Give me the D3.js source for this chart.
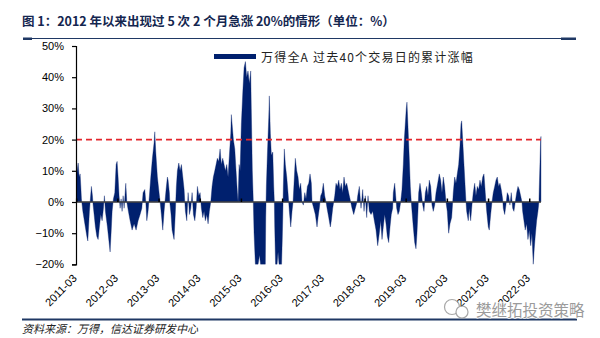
<!DOCTYPE html>
<html><head><meta charset="utf-8">
<script src="https://cdn.jsdelivr.net/npm/d3@7/dist/d3.min.js"></script>
<style>body{margin:0;background:#fff}</style>
</head><body>
<svg id="c" width="600" height="338"></svg>
<script>
// decimal-year positions of the sampled points
const dates = [
2011.153,2011.177,2011.202,2011.226,2011.250,2011.267,2011.282,2011.299,2011.316,2011.364,
2011.413,2011.437,2011.476,2011.493,2011.524,2011.549,2011.566,2011.590,2011.621,2011.655,
2011.687,2011.718,2011.752,2011.784,2011.816,2011.840,2011.864,2011.913,2011.978,2012.002,
2012.027,2012.058,2012.092,2012.124,2012.148,2012.172,2012.196,2012.221,2012.245,2012.269,
2012.294,2012.318,2012.359,2012.384,2012.422,2012.464,2012.512,2012.561,2012.609,2012.658,
2012.706,2012.748,2012.779,2012.820,2012.845,2012.869,2012.900,2012.932,2012.966,2013.005,
2013.046,2013.063,2013.087,2013.126,2013.167,2013.192,2013.223,2013.257,2013.289,2013.337,
2013.369,2013.386,2013.417,2013.427,2013.458,2013.483,2013.531,2013.563,2013.587,2013.612,
2013.646,2013.677,2013.709,2013.743,2013.775,2013.792,2013.806,2013.840,2013.872,2013.904,
2013.937,2013.969,2014.001,2014.035,2014.067,2014.098,2014.132,2014.163,2014.194,2014.228,
2014.260,2014.291,2014.325,2014.357,2014.388,2014.422,2014.454,2014.485,2014.519,2014.551,
2014.582,2014.616,2014.648,2014.679,2014.713,2014.745,2014.777,2014.810,2014.842,2014.874,
2014.908,2014.922,2014.946,2014.971,2015.005,2015.036,2015.068,2015.085,2015.110,2015.134,
2015.165,2015.199,2015.231,2015.263,2015.294,2015.326,2015.359,2015.392,2015.406,2015.431,
2015.455,2015.473,2015.505,2015.539,2015.570,2015.607,2015.631,2015.692,2015.747,2015.757,
2015.772,2015.796,2015.830,2015.844,2015.869,2015.893,2015.927,2015.951,2015.966,2015.975,
2015.995,2016.032,2016.056,2016.080,2016.141,2016.158,2016.170,2016.184,2016.208,2016.233,
2016.267,2016.298,2016.330,2016.364,2016.395,2016.420,2016.444,2016.475,2016.509,2016.541,
2016.573,2016.606,2016.638,2016.670,2016.704,2016.735,2016.767,2016.801,2016.832,2016.864,
2016.881,2016.922,2016.961,2017.002,2017.027,2017.058,2017.092,2017.123,2017.155,2017.189,
2017.221,2017.245,2017.286,2017.325,2017.349,2017.383,2017.432,2017.463,2017.495,2017.529,
2017.560,2017.592,2017.626,2017.657,2017.689,2017.723,2017.754,2017.786,2017.820,2017.851,
2017.893,2017.932,2017.973,2017.990,2018.029,2018.070,2018.111,2018.143,2018.174,2018.208,
2018.240,2018.271,2018.313,2018.354,2018.393,2018.434,2018.475,2018.514,2018.548,2018.580,
2018.611,2018.645,2018.677,2018.708,2018.742,2018.774,2018.805,2018.839,2018.854,2018.888,
2018.912,2018.936,2018.968,2018.999,2019.033,2019.065,2019.097,2019.121,2019.145,2019.169,
2019.186,2019.211,2019.242,2019.267,2019.291,2019.308,2019.339,2019.373,2019.405,2019.429,
2019.453,2019.470,2019.502,2019.534,2019.568,2019.599,2019.631,2019.664,2019.696,2019.728,
2019.762,2019.793,2019.825,2019.859,2019.891,2019.932,2019.971,2020.004,2020.036,2020.068,
2020.100,2020.133,2020.164,2020.198,2020.230,2020.271,2020.296,2020.310,2020.344,2020.376,
2020.407,2020.441,2020.473,2020.497,2020.514,2020.538,2020.570,2020.602,2020.619,2020.635,
2020.674,2020.698,2020.732,2020.764,2020.795,2020.830,2020.861,2020.893,2020.927,2020.958,
2020.990,2021.024,2021.055,2021.087,2021.104,2021.121,2021.160,2021.184,2021.218,2021.250,
2021.281,2021.315,2021.347,2021.378,2021.412,2021.444,2021.475,2021.509,2021.524,2021.558,
2021.589,2021.621,2021.655,2021.686,2021.718,2021.752,2021.783,2021.815,2021.849,2021.881,
2021.912,2021.946,2021.978,2021.994,2022.026,2022.057,2022.092,2022.123,2022.155,2022.189,
2022.220,2022.252,2022.276,2022.300,2022.334,2022.366,2022.390,2022.397,2022.414,2022.431,
2022.439
];
// 40-trading-day cumulative return (%)
const values = [
3,10,12.5,8,9,5,1,-1,-3,-7,
-11,-12.5,-3,0,5,2,-1,-4,-8,-11,
-12,-8,-4,-6,-2,2,-3,-8,-16,-10,
-3,1,3,12,13,8,2,-2,1,-3,
2,-2,6,0,-3,-6,-9,-7,-9,-6,
-4,-2,3,4,0,-6,-3,2,8,14,
19,22.5,16,8,3,0,-4,-9,-3,4,
8,7,3,0,-4,-9,-12,-3,5,10,
12.5,10,12,8,4,0,-3,-6,3,-4,
-2,3,-4,-6,-2,5,2,3,-2,-5,
-3,-6,-4,-7,-3,0,5,8,10,12,
14,13,17,12,14,12,10,12,8,15,
22,28,24,20,17,10,3,0,12,10,
25,35,43,45,40,42,38,42,30,10,
0,-10,-20,-20,-20,-17,-20,-20,-20,-5,
5,15,27,34,22,15,16,5,0,-8,
-20,-20,-16,-20,-20,-12,-5,5,17,12,
8,3,-3,-8,-3,0,6,14,10,8,
4,6,0,-1,3,1,5,6,9,6,
0,-2,-4,-8,-5,-2,2,3,6,2,
0,-2,-5,-8,-6,-2,2,6,5,7,
4,6,3,8,5,6,4,2,0,-2,
-4,-2,0,2,5,-2,4,-3,2,-5,
2,-3,-4,-3,-6,-9,-14,-10,-6,-12,
-8,-4,-7,-11,-13,-8,-4,-2,3,6,
2,-2,-4,-3,0,4,12,20,25,30,
32,24,14,5,0,-3,-8,-13,-15,-10,
-3,3,6,3,-1,-3,3,5,2,7,
5,-1,-3,-1,3,6,9,7,3,8,
5,0,-3,-10,-7,-5,0,3,8,6,
9,12,18,25,26,20,12,4,0,-3,
-6,-2,-6,-1,3,6,2,5,4,7,
5,8,9,3,0,-3,-8,-9,-4,0,
3,5,7,8,5,6,4,1,-2,-4,
-1,3,2,-1,3,-2,-3,0,3,5,
4,2,0,-3,-6,-9,-7,-12,-9,-14,
-10,-20,-15,-11,-6,-3,0,4,12,20,
21
];
const yTicks = [-20,-10,0,10,20,30,40,50];
const xTickLabels = ["2011-03","2012-03","2013-03","2014-03","2015-03","2016-03","2017-03","2018-03","2019-03","2020-03","2021-03","2022-03"];
const threshold = 20;
const seriesName = "万得全A 过去40个交易日的累计涨幅";
const titleText = "图 1：2012 年以来出现过 5 次 2 个月急涨 20%的情形（单位：%）";
const sourceText = "资料来源：万得，信达证券研发中心";
const watermarkText = "樊继拓投资策略";

const navy = "#00206e";
const svg = d3.select("#c");
const x = d3.scaleLinear().domain([2011.15, 2022.44]).range([76, 541]);
const y = d3.scaleLinear().domain([-20, 50]).range([264.4, 46]);
const data = d3.zip(dates, values);

// title + rules
svg.append("text").attr("x", 22).attr("y", 26).text(titleText)
  .attr("font-family", "'Noto Sans CJK SC', sans-serif").attr("font-weight", "bold")
  .attr("font-size", 12.5).attr("fill", "#14264f");
svg.append("line").attr("x1", 23).attr("x2", 576).attr("y1", 38.5).attr("y2", 38.5)
  .attr("stroke", "#1f3864").attr("stroke-width", 1.2);
svg.append("rect").attr("x", 23).attr("y", 37.5).attr("width", 9).attr("height", 2.5).attr("fill", "#1f3864");
svg.append("rect").attr("x", 561).attr("y", 37.5).attr("width", 15).attr("height", 2.5).attr("fill", "#1f3864");
svg.append("line").attr("x1", 22).attr("x2", 577).attr("y1", 319.5).attr("y2", 319.5)
  .attr("stroke", "#1f3864").attr("stroke-width", 2);
svg.append("text").attr("x", 22).attr("y", 333).text(sourceText)
  .attr("font-family", "'Noto Sans CJK SC', sans-serif").attr("font-style", "italic")
  .attr("font-size", 11).attr("fill", "#222");

// clip
svg.append("clipPath").attr("id", "clip").append("rect")
  .attr("x", x.range()[0]).attr("y", y(50) - 2)
  .attr("width", x.range()[1] - x.range()[0] + 1).attr("height", y(-20) - y(50) + 2);

// series area
const area = d3.area().x(d => x(d[0])).y0(y(0)).y1(d => y(d[1]));
svg.append("path").datum(data).attr("d", area).attr("fill", navy)
  .attr("stroke", navy).attr("stroke-width", 0.6).attr("stroke-opacity", 0.6)
  .attr("clip-path", "url(#clip)");

// threshold
svg.append("line").attr("x1", x.range()[0]).attr("x2", x.range()[1])
  .attr("y1", y(threshold)).attr("y2", y(threshold))
  .attr("stroke", "#e3262c").attr("stroke-width", 1.6).attr("stroke-dasharray", "6,4");

// zero axis
svg.append("line").attr("x1", x.range()[0]).attr("x2", x.range()[1])
  .attr("y1", y(0)).attr("y2", y(0)).attr("stroke", "#404040").attr("stroke-width", 1.5);
const tickPos = xTickLabels.map(s => { const [yy, mm] = s.split("-").map(Number); return yy + (mm - 1) / 12; });
svg.append("g").selectAll("line").data(tickPos).join("line")
  .attr("x1", d => x(d)).attr("x2", d => x(d)).attr("y1", y(0)).attr("y2", y(0) - 3.5)
  .attr("stroke", "#000").attr("stroke-width", 1.5);
svg.append("g").selectAll("text").data(xTickLabels).join("text")
  .attr("transform", (d, i) => `translate(${x(tickPos[i]) + 1},${279}) rotate(-45)`)
  .attr("text-anchor", "end").attr("font-family", "'Liberation Sans', Arial, sans-serif")
  .attr("font-size", 11).attr("fill", "#000").text(d => d);

// y axis
const yAxis = d3.axisLeft(y).tickValues(yTicks).tickSize(4).tickSizeOuter(4).tickPadding(8)
  .tickFormat(d => (d < 0 ? "\u2212" : "") + Math.abs(d) + "%");
const gy = svg.append("g").attr("transform", `translate(${x.range()[0]},0)`).call(yAxis);
gy.selectAll("path,line").attr("stroke", "#000").attr("stroke-width", 1.2);
gy.selectAll("text").attr("font-family", "'Liberation Sans', Arial, sans-serif").attr("font-size", 11).attr("fill", "#000");

// legend
svg.append("rect").attr("x", 214).attr("y", 54).attr("width", 42).attr("height", 5).attr("fill", navy);
svg.append("text").attr("x", 261).attr("y", 62).text(seriesName)
  .attr("font-family", "'Noto Sans CJK SC', sans-serif").attr("font-size", 12)
  .attr("letter-spacing", 1.2).attr("fill", "#222");

// watermark
const wm = svg.append("g").attr("opacity", 0.85);
wm.append("circle").attr("cx", 452).attr("cy", 307).attr("r", 7.5).attr("fill", "#fff").attr("stroke", "#999").attr("stroke-width", 1.2);
wm.append("circle").attr("cx", 462).attr("cy", 312).attr("r", 6).attr("fill", "#fff").attr("stroke", "#999").attr("stroke-width", 1.2);
wm.append("text").attr("x", 476).attr("y", 316).text(watermarkText)
  .attr("font-family", "'Noto Sans CJK SC', sans-serif").attr("font-size", 15.5)
  .attr("fill", "#8a8a8a").attr("stroke", "#fff").attr("stroke-width", 1.5).attr("paint-order", "stroke");
</script>
</body></html>
